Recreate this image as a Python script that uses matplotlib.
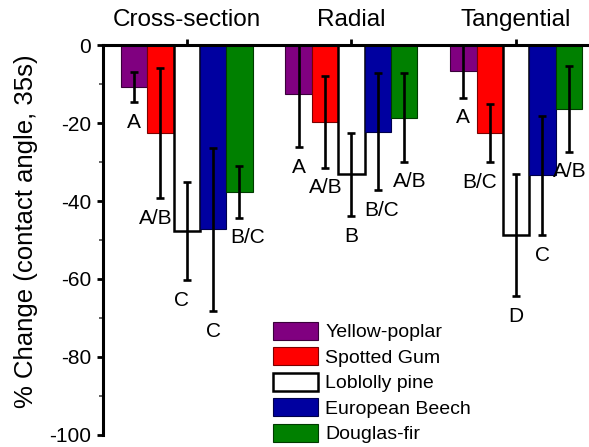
import numpy as np
import matplotlib
matplotlib.use("Agg")
import matplotlib.pyplot as plt
from matplotlib.ticker import MultipleLocator

plt.rcParams["font.family"] = ["Liberation Sans", "DejaVu Sans"]
plt.rcParams["axes.unicode_minus"] = False

# datos
grupos = ["Cross-section", "Radial", "Tangential"]
especies = ["Yellow-poplar", "Spotted Gum", "Loblolly pine", "European Beech", "Douglas-fir"]

yellow = [-10.7, -12.5, -6.6]
spotted = [-22.6, -19.7, -22.6]
loblolly = [-47.7, -33.2, -48.8]
beech = [-47.3, -22.2, -33.4]
douglas = [-37.7, -18.6, -16.4]

yellow_err = [3.9, 13.7, 6.9]
spotted_err = [16.6, 11.8, 7.5]
loblolly_err = [12.6, 10.7, 15.6]
beech_err = [20.9, 15.0, 15.3]
douglas_err = [6.6, 11.3, 11.0]

yellow_let = ["A", "A", "A"]
spotted_let = ["A/B", "A/B", "B/C"]
loblolly_let = ["C", "B", "D"]
beech_let = ["C", "B/C", "C"]
douglas_let = ["B/C", "A/B", "A/B"]

medias = [yellow, spotted, loblolly, beech, douglas]
errores = [yellow_err, spotted_err, loblolly_err, beech_err, douglas_err]
letras = [yellow_let, spotted_let, loblolly_let, beech_let, douglas_let]

colores = ["#800080", "#FF0000", "#FFFFFF", "#0000A0", "#008000"]
bordes = ["#3a003a", "#7a0000", "black", "#00004a", "#003a00"]
grosor_borde = [0.8, 0.8, 1.8, 0.8, 0.8]
# pequeños desplazamientos horizontales de las letras (px)
nudge = [[0, 0, 0], [-5, 1, -10], [-5, 0, 0], [0, 4, 0], [8, 6, 1]]

fig = plt.figure(figsize=(5.89, 4.47), dpi=100)
ax = fig.add_axes([102.7 / 589, 12.0 / 447, 1 - 102.7 / 589, 390.0 / 447])

x = np.arange(len(grupos))
ancho = 0.16
for i, nombre in enumerate(especies):
    pos = x + (i - 2) * ancho
    ax.bar(pos, medias[i], width=ancho, color=colores[i], edgecolor=bordes[i],
           linewidth=grosor_borde[i], label=nombre, zorder=2)
    ax.errorbar(pos, medias[i], yerr=errores[i], fmt="none", ecolor="black",
                elinewidth=1.9, capsize=3.2, capthick=1.9, zorder=3)
    for j in range(len(grupos)):
        ax.annotate(letras[i][j], (pos[j], medias[i][j] - errores[i][j]),
                    xytext=(nudge[i][j] * 0.72, -14.5), textcoords="offset points",
                    ha="center", va="center", fontsize=15, annotation_clip=False)

ax.set_xlim(-0.51, 2.443)
ax.set_ylim(-100, 0)

ax.spines["bottom"].set_visible(False)
ax.spines["right"].set_visible(False)
ax.spines["top"].set_linewidth(2.2)
ax.spines["left"].set_linewidth(2.2)
ax.spines["top"].set_zorder(4)

ax.xaxis.tick_top()
ax.set_xticks(x)
ax.set_xticklabels(grupos, fontsize=17.5)
ax.tick_params(axis="x", direction="out", length=4, width=2, pad=6)

ax.yaxis.set_major_locator(MultipleLocator(20))
ax.yaxis.set_minor_locator(MultipleLocator(10))
ax.tick_params(axis="y", which="major", direction="out", length=4.5, width=2,
               labelsize=15, pad=4)
ax.tick_params(axis="y", which="minor", direction="out", length=3, width=1.3,
               color="#555555")
ax.set_ylabel("% Change (contact angle, 35s)", fontsize=18.5)
ax.yaxis.set_label_coords(-0.133, 0.523)

ax.legend(loc="upper left", bbox_to_anchor=(272.7 / 589, 1 - 321.7 / 447),
          bbox_transform=fig.transFigure, frameon=False, fontsize=14,
          handlelength=2.35, handleheight=1.05, labelspacing=0.3,
          handletextpad=0.35, borderpad=0, borderaxespad=0)

fig.savefig("out.png", dpi=100)
